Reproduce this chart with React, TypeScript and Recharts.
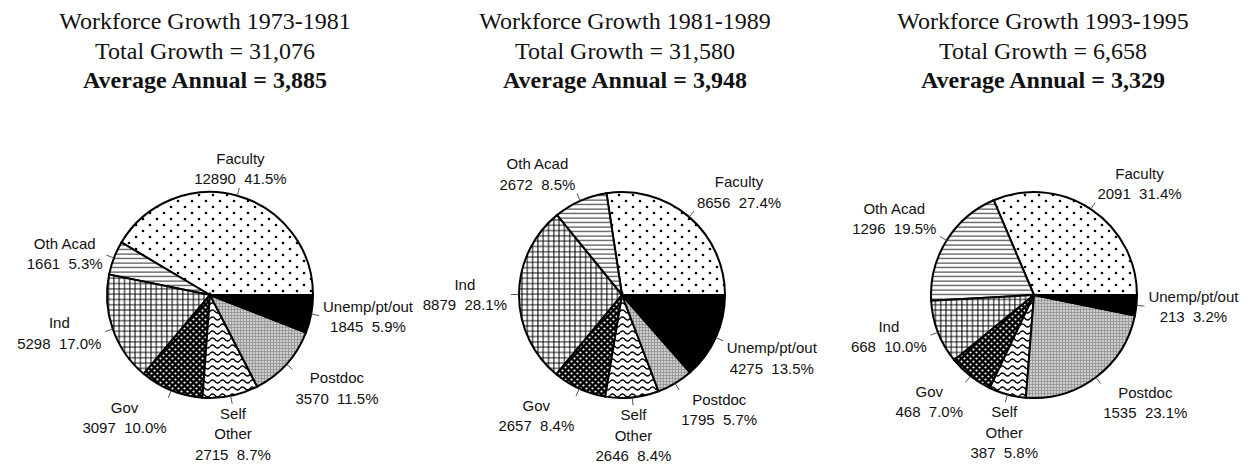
import React from 'react';
import { PieChart, Pie, Cell } from 'recharts';

const categories = ['Faculty', 'Oth Acad', 'Ind', 'Gov', 'Self Other', 'Postdoc', 'Unemp/pt/out'];
const growth7381 = [12890, 1661, 5298, 3097, 2715, 3570, 1845];
const growth8189 = [8656, 2672, 8879, 2657, 2646, 1795, 4275];
const growth9395 = [2091, 1296, 668, 468, 387, 1535, 213];
const periods = ['1973-1981', '1981-1989', '1993-1995'];
const totals = ['31,076', '31,580', '6,658'];
const averages = ['3,885', '3,948', '3,329'];

const fills = ['url(#pFaculty)', 'url(#pOthAcad)', 'url(#pInd)', 'url(#pGov)', 'url(#pSelf)', 'url(#pPostdoc)', '#000'];

const LABEL_FONT = '15px "Liberation Sans", Arial, sans-serif';
const LINE_H = 20.5;
const RAD = Math.PI / 180;

let ctx: CanvasRenderingContext2D | null = null;
const measure = (s: string) => {
  if (!ctx) {
    ctx = document.createElement('canvas').getContext('2d');
    if (ctx) ctx.font = LABEL_FONT;
  }
  return ctx ? ctx.measureText(s).width : s.length * 8;
};

const makeLabel = (values: number[]) => {
  const total = values.reduce((a, b) => a + b, 0);
  return (props: any) => {
    const { cx, cy, midAngle, outerRadius, index } = props;
    const cos = Math.cos(-midAngle * RAD);
    const sin = Math.sin(-midAngle * RAD);
    const name = categories[index];
    const v = values[index];
    const pct = ((v / total) * 100).toFixed(1);
    const lines = [...(name === 'Self Other' ? ['Self', 'Other'] : [name]), `${v}  ${pct}%`];
    const w = Math.max(...lines.map(measure));
    const hVis = (lines.length - 1) * LINE_H + 11;

    const ax = cx + (outerRadius + 12) * cos;
    const ay = cy + (outerRadius + 12) * sin;
    let centerX = ax;
    if (cos > 0.37) centerX = ax + w / 2;
    else if (cos < -0.37) centerX = ax - w / 2;
    // sin here is screen-space (positive = below)
    let top = ay - hVis / 2;
    if (sin < -0.38) top = ay - hVis;
    else if (sin > 0.38) top = ay;
    const firstBase = top + 11;

    return (
      <g key={`lbl-${index}`}>
        <line
          x1={cx + outerRadius * cos}
          y1={cy + outerRadius * sin}
          x2={cx + (outerRadius + 8) * cos}
          y2={cy + (outerRadius + 8) * sin}
          stroke="#555"
          strokeWidth={1}
        />
        <text
          x={centerX}
          y={firstBase}
          textAnchor="middle"
          fill="#111"
          style={{ font: LABEL_FONT, whiteSpace: 'pre' }}
        >
          {lines.map((l, i) => (
            <tspan key={i} x={centerX} y={firstBase + i * LINE_H}>
              {l}
            </tspan>
          ))}
        </text>
      </g>
    );
  };
};

const series = [growth7381, growth8189, growth9395];
const pieCenters = [210, 622, 1034];
const titleCenters = [205, 625, 1043];

export default function App() {
  return (
    <div style={{ position: 'absolute', left: 0, top: 0, width: 1249, height: 467, background: '#fff' }}>
      {periods.map((p, i) => (
        <div
          key={p}
          style={{
            position: 'absolute',
            left: titleCenters[i] - 200,
            top: 6,
            width: 400,
            textAlign: 'center',
            fontFamily: '"Liberation Serif", "Times New Roman", serif',
            fontSize: 24,
            lineHeight: '30px',
            color: '#111',
          }}
        >
          <div>Workforce Growth {p}</div>
          <div>Total Growth = {totals[i]}</div>
          <div style={{ fontWeight: 'bold', marginTop: -1 }}>Average Annual = {averages[i]}</div>
        </div>
      ))}
      <PieChart width={1249} height={467} margin={{ top: 0, right: 0, bottom: 0, left: 0 }}>
        <defs>
          <pattern id="pFaculty" width="14" height="12" patternUnits="userSpaceOnUse">
            <rect width="14" height="12" fill="#fff" />
            <circle cx="3" cy="3" r="1.3" fill="#000" />
            <circle cx="10" cy="9" r="1.3" fill="#000" />
          </pattern>
          <pattern id="pOthAcad" width="8" height="4.5" patternUnits="userSpaceOnUse">
            <rect width="8" height="4.5" fill="#fff" />
            <line x1="0" y1="2" x2="8" y2="2" stroke="#000" strokeWidth="0.9" />
          </pattern>
          <pattern id="pInd" width="5.3" height="5.3" patternUnits="userSpaceOnUse">
            <rect width="5.3" height="5.3" fill="#fff" />
            <path d="M0 2.6H5.3M2.6 0V5.3" stroke="#000" strokeWidth="1" />
          </pattern>
          <pattern id="pGov" width="6" height="6" patternUnits="userSpaceOnUse">
            <rect width="6" height="6" fill="#000" />
            <circle cx="1.5" cy="1.5" r="1.1" fill="#fff" />
            <circle cx="4.5" cy="4.5" r="1.1" fill="#fff" />
          </pattern>
          <pattern id="pSelf" width="10" height="7" patternUnits="userSpaceOnUse">
            <rect width="10" height="7" fill="#fff" />
            <path d="M0 3.5 Q2.5 0.5 5 3.5 T10 3.5" stroke="#000" strokeWidth="1.4" fill="none" />
          </pattern>
          <pattern id="pPostdoc" width="3" height="3" patternUnits="userSpaceOnUse">
            <rect width="3" height="3" fill="#cdcdcd" />
            <path d="M0 0.5H3M0.5 0V3" stroke="#909090" strokeWidth="0.8" />
          </pattern>
        </defs>
        {series.map((vals, i) => (
          <Pie
            key={periods[i]}
            data={categories.map((c, k) => ({ name: c, value: vals[k] }))}
            dataKey="value"
            nameKey="name"
            cx={pieCenters[i]}
            cy={295}
            outerRadius={103}
            startAngle={0}
            endAngle={360}
            stroke="#000"
            strokeWidth={2}
            label={makeLabel(vals)}
            labelLine={false}
            isAnimationActive={false}
          >
            {categories.map((c, k) => (
              <Cell key={c} fill={fills[k]} stroke="#000" strokeWidth={2} />
            ))}
          </Pie>
        ))}
      </PieChart>
    </div>
  );
}
